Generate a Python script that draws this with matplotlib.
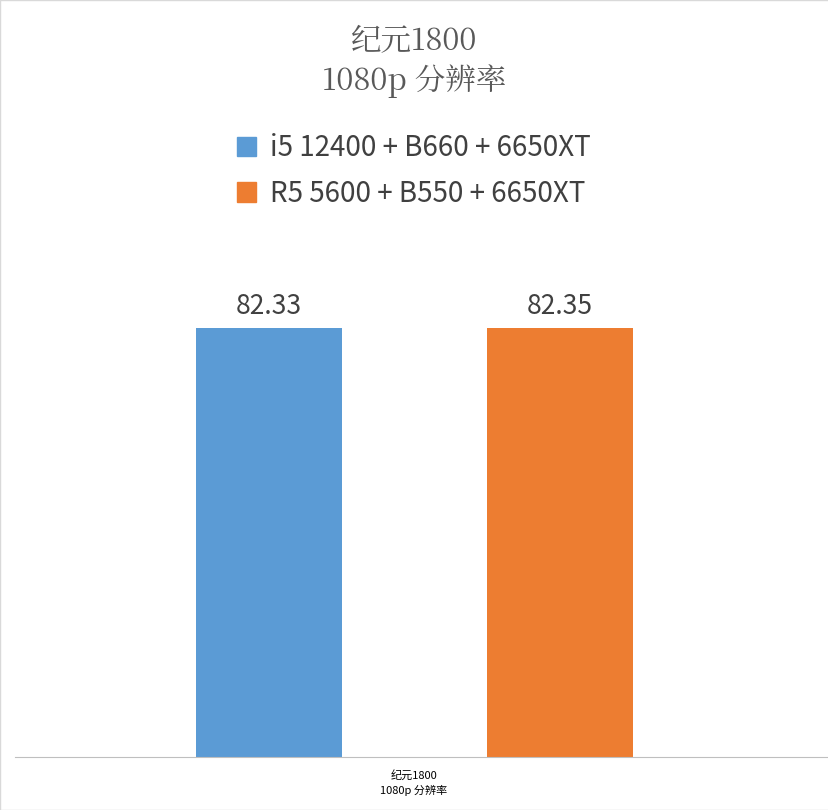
import matplotlib.pyplot as plt
from matplotlib.patches import Patch

plt.rcParams['font.family'] = ['Noto Sans CJK SC', 'DejaVu Sans']

series = ['i5 12400 + B660 + 6650XT', 'R5 5600 + B550 + 6650XT']
values = [82.33, 82.35]
colors = ['#5b9bd5', '#ed7d31']
category = '纪元1800\n1080p 分辨率'

W, H = 829, 810
fig = plt.figure(figsize=(W / 100, H / 100), dpi=100)
ax = fig.add_axes([15 / W, (H - 757) / H, 814 / W, 469 / H])

for i, (v, c) in enumerate(zip(values, colors)):
    ax.bar(i, v, width=0.5, color=c)
    ax.text(i, v + 1.5, f'{v:.2f}', ha='center', va='bottom', fontsize=19, color='#404040')

ax.set_xlim(-0.873, 1.924)
ax.set_ylim(0, 90)
for s in ['top', 'right', 'left']:
    ax.spines[s].set_visible(False)
ax.spines['bottom'].set_color('#bfbfbf')
ax.set_yticks([])
ax.set_xticks([])

fig.text(414 / W, 1 - 783 / H, category, ha='center', va='center', fontsize=8,
         linespacing=1.4)
fig.text(414 / W, 1 - 62 / H, '纪元1800\n1080p 分辨率', ha='center', va='center',
         fontsize=22, color='#595959', linespacing=1.25, family=['Noto Serif CJK SC', 'Liberation Serif', 'Noto Sans CJK SC'])

handles = [Patch(color=c) for c in colors]
fig.legend(handles, series, loc='center', bbox_to_anchor=(414 / W, 1 - 171 / H),
           frameon=False, fontsize=20, labelcolor='#404040', handlelength=0.7,
           handleheight=0.7, labelspacing=0.55, handletextpad=0.5)

fig.patches.append(plt.Rectangle((0, 0), 1, 1, transform=fig.transFigure,
                                 fill=False, edgecolor='#d9d9d9', lw=1))
fig.savefig('out.png', dpi=100)
